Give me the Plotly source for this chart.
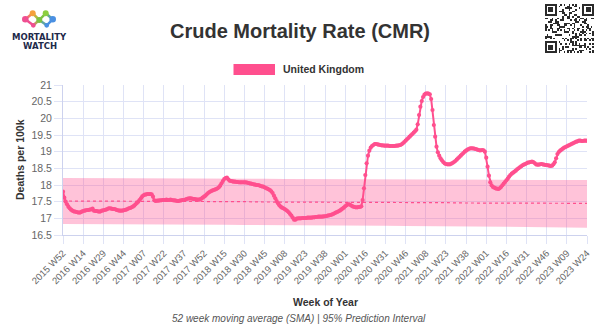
import datetime
import plotly.graph_objects as go

W, H = 600, 335

# ---------------- data ----------------
tick_labels = ["2015 W52", "2016 W14", "2016 W29", "2016 W44", "2017 W07", "2017 W22",
               "2017 W37", "2017 W52", "2018 W15", "2018 W30", "2018 W45", "2019 W08",
               "2019 W23", "2019 W38", "2020 W01", "2020 W16", "2020 W31", "2020 W46",
               "2021 W08", "2021 W23", "2021 W38", "2022 W01", "2022 W16", "2022 W31",
               "2022 W46", "2023 W09", "2023 W24"]

cmr_uk = [
    17.80, 17.62, 17.50, 17.42, 17.35, 17.30, 17.26, 17.23, 17.21, 17.20, 17.19, 17.18, 17.17, 17.18, 17.20,
    17.22, 17.23, 17.24, 17.25, 17.25, 17.26, 17.27, 17.29, 17.23, 17.22, 17.22, 17.21, 17.20, 17.21, 17.23,
    17.24, 17.25, 17.26, 17.28, 17.30, 17.30, 17.29, 17.28, 17.28, 17.27, 17.25, 17.24, 17.23, 17.23, 17.23,
    17.24, 17.25, 17.26, 17.28, 17.30, 17.31, 17.33, 17.35, 17.38, 17.42, 17.46, 17.50, 17.55, 17.60, 17.66,
    17.69, 17.71, 17.72, 17.73, 17.73, 17.73, 17.72, 17.65, 17.54, 17.52, 17.53, 17.53, 17.54, 17.54, 17.55,
    17.55, 17.55, 17.56, 17.55, 17.55, 17.56, 17.55, 17.54, 17.54, 17.53, 17.52, 17.52, 17.53, 17.54, 17.55,
    17.55, 17.56, 17.58, 17.59, 17.60, 17.60, 17.59, 17.58, 17.58, 17.57, 17.56, 17.56, 17.57, 17.59, 17.62,
    17.65, 17.68, 17.72, 17.76, 17.79, 17.81, 17.83, 17.85, 17.86, 17.88, 17.90, 17.93, 17.98, 18.05, 18.12,
    18.18, 18.21, 18.22, 18.17, 18.13, 18.12, 18.11, 18.10, 18.10, 18.09, 18.09, 18.08, 18.08, 18.08, 18.08,
    18.08, 18.08, 18.07, 18.06, 18.05, 18.04, 18.03, 18.02, 18.01, 18.00, 18.00, 17.99, 17.97, 17.96, 17.95,
    17.93, 17.91, 17.89, 17.87, 17.85, 17.81, 17.76, 17.68, 17.60, 17.52, 17.45, 17.39, 17.35, 17.32, 17.30,
    17.28, 17.25, 17.22, 17.18, 17.13, 17.08, 17.02, 16.96, 16.96, 16.99, 17.00, 17.00, 17.00, 17.01, 17.01,
    17.01, 17.01, 17.02, 17.02, 17.02, 17.02, 17.03, 17.03, 17.04, 17.04, 17.05, 17.05, 17.05, 17.05, 17.06,
    17.06, 17.07, 17.08, 17.09, 17.10, 17.11, 17.13, 17.15, 17.17, 17.19, 17.21, 17.23, 17.26, 17.29, 17.32,
    17.36, 17.39, 17.42, 17.42, 17.40, 17.37, 17.35, 17.34, 17.33, 17.33, 17.34, 17.34, 17.36, 17.55, 17.90,
    18.30, 18.65, 18.88, 19.03, 19.12, 19.17, 19.20, 19.23, 19.23, 19.22, 19.21, 19.20, 19.19, 19.19, 19.18,
    19.18, 19.18, 19.18, 19.17, 19.17, 19.17, 19.17, 19.17, 19.18, 19.18, 19.19, 19.20, 19.22, 19.25, 19.29,
    19.33, 19.37, 19.41, 19.45, 19.49, 19.53, 19.57, 19.61, 19.66, 19.82, 20.10, 20.35, 20.52, 20.64, 20.71,
    20.74, 20.75, 20.74, 20.72, 20.58, 20.25, 19.80, 19.45, 19.15, 18.98, 18.88, 18.80, 18.74, 18.69, 18.65,
    18.63, 18.62, 18.62, 18.62, 18.64, 18.66, 18.69, 18.72, 18.76, 18.80, 18.84, 18.88, 18.92, 18.96, 19.00,
    19.03, 19.06, 19.08, 19.10, 19.10, 19.10, 19.09, 19.08, 19.07, 19.05, 19.04, 19.04, 19.05, 19.04, 19.00,
    18.82, 18.55, 18.28, 18.08, 17.99, 17.94, 17.92, 17.90, 17.89, 17.88, 17.90, 17.94, 17.99, 18.04, 18.09,
    18.14, 18.19, 18.25, 18.30, 18.34, 18.37, 18.40, 18.43, 18.47, 18.50, 18.53, 18.56, 18.59, 18.61, 18.63,
    18.65, 18.67, 18.68, 18.69, 18.70, 18.69, 18.66, 18.62, 18.61, 18.61, 18.62, 18.63, 18.62, 18.61, 18.60,
    18.60, 18.59, 18.58, 18.57, 18.58, 18.62, 18.68, 18.80, 18.93, 18.99, 19.03, 19.06, 19.09, 19.12, 19.14,
    19.16, 19.18, 19.20, 19.22, 19.24, 19.26, 19.28, 19.30, 19.31, 19.33, 19.33, 19.32, 19.32, 19.33, 19.33,
    19.33,
]

baseline = [17.52, 17.52, 17.52, 17.51, 17.51, 17.51, 17.50, 17.50, 17.50, 17.50, 17.49, 17.49, 17.49,
            17.48, 17.48, 17.48, 17.48, 17.47, 17.47, 17.47, 17.46, 17.46, 17.46, 17.46, 17.45, 17.45, 17.45]
pi_upper = [18.21, 18.21, 18.21, 18.20, 18.20, 18.20, 18.20, 18.19, 18.19, 18.19, 18.19, 18.18, 18.18,
            18.18, 18.18, 18.17, 18.17, 18.17, 18.17, 18.16, 18.16, 18.16, 18.16, 18.15, 18.15, 18.15, 18.15]
pi_lower = [16.83, 16.83, 16.83, 16.82, 16.82, 16.82, 16.81, 16.81, 16.81, 16.80, 16.80, 16.80, 16.79,
            16.79, 16.79, 16.78, 16.78, 16.77, 16.77, 16.76, 16.76, 16.75, 16.75, 16.74, 16.74, 16.73, 16.72]

# weekly category labels (ISO weeks), starting at the first tick label
_y0, _w0 = int(tick_labels[0][:4]), int(tick_labels[0][-2:])
_start = datetime.date.fromisocalendar(_y0, _w0, 1)
weeks = []
for i in range(len(cmr_uk)):
    iy, iw, _ = (_start + datetime.timedelta(weeks=i)).isocalendar()
    weeks.append(f"{iy} W{iw:02d}")

# ---------------- helpers ----------------
def px(x):
    return x / W

def py(y):
    return 1 - y / H

PINK = "#ff4f8e"
GRID = "#dfe3f6"
AXIS = "#cdd2ee"
FONT = "Liberation Sans, Arial, Helvetica, sans-serif"

fig = go.Figure()

# prediction interval band
fig.add_trace(go.Scatter(x=tick_labels, y=pi_lower, mode="lines", line=dict(width=0, color=PINK),
                         hoverinfo="skip", showlegend=False))
fig.add_trace(go.Scatter(x=tick_labels, y=pi_upper, mode="lines", line=dict(width=0, color=PINK),
                         fill="tonexty", fillcolor="rgba(255,79,143,0.34)", hoverinfo="skip",
                         showlegend=False))
# baseline
fig.add_trace(go.Scatter(x=tick_labels, y=baseline, mode="lines",
                         line=dict(width=1.2, color=PINK, dash="dot"), hoverinfo="skip",
                         showlegend=False))
# main series
fig.add_trace(go.Scatter(x=weeks, y=cmr_uk, mode="lines+markers", name="United Kingdom",
                         line=dict(width=2, color=PINK), marker=dict(size=4.2, color=PINK),
                         showlegend=False))

# QR-like decoration (top right)
n = 29
qr = [[0] * n for _ in range(n)]
for i in range(n):
    for j in range(n):
        qr[i][j] = 1 if ((i * i + 3 * j + i * j + (i ^ j)) % 7) < 3 else 0
def finder(r0, c0):
    for i in range(7):
        for j in range(7):
            edge = i in (0, 6) or j in (0, 6)
            core = 2 <= i <= 4 and 2 <= j <= 4
            qr[r0 + i][c0 + j] = 1 if (edge or core) else 0
    for k in range(-1, 8):
        for (a, b) in ((r0 - 1, c0 + k), (r0 + 7, c0 + k), (r0 + k, c0 - 1), (r0 + k, c0 + 7)):
            if 0 <= a < n and 0 <= b < n:
                qr[a][b] = 0
finder(0, 0)
finder(0, n - 7)
finder(n - 7, 0)
fig.add_trace(go.Heatmap(z=qr, xaxis="x2", yaxis="y2", showscale=False, hoverinfo="skip",
                         colorscale=[[0, "white"], [1, "#2b2b2b"]], zmin=0, zmax=1))

fig.update_layout(
    width=W, height=H,
    margin=dict(l=0, r=0, t=0, b=0, pad=0),
    paper_bgcolor="white", plot_bgcolor="white",
    font=dict(family=FONT, color="#555"),
    showlegend=False,
    xaxis=dict(
        domain=[px(63), px(587)], anchor="y",
        type="category", categoryorder="array", categoryarray=weeks,
        range=[0, len(weeks) - 1],
        tickmode="array", tickvals=tick_labels, ticktext=tick_labels,
        tickangle=-45, tickfont=dict(size=9.5, color="#666"),
        showgrid=True, gridcolor=GRID, gridwidth=1,
        ticks="outside", ticklen=8, tickcolor=GRID,
        showline=True, linecolor=AXIS, zeroline=False, automargin=False,
    ),
    yaxis=dict(
        domain=[py(235), py(85)], anchor="x",
        range=[16.5, 21], tick0=16.5, dtick=0.5,
        tickfont=dict(size=10.5, color="#666"),
        showgrid=True, gridcolor=GRID, gridwidth=1,
        ticks="outside", ticklen=8, tickcolor=GRID,
        showline=True, linecolor=AXIS, zeroline=False, automargin=False,
    ),
    xaxis2=dict(domain=[px(545), px(594)], anchor="y2", visible=False, showgrid=False),
    yaxis2=dict(domain=[py(53), py(4)], anchor="x2", visible=False, showgrid=False,
                autorange="reversed"),
)

ann = []
ann.append(dict(text="<b>Crude Mortality Rate (CMR)</b>", x=px(300), y=py(31), xref="paper",
                yref="paper", showarrow=False, font=dict(size=20, color="#333", family=FONT),
                xanchor="center", yanchor="middle"))
ann.append(dict(text="<b>United Kingdom</b>", x=px(281), y=py(69.5), xref="paper", yref="paper",
                showarrow=False, font=dict(size=10.5, color="#333", family=FONT),
                xanchor="left", yanchor="middle"))
ann.append(dict(text="<b>Deaths per 100k</b>", x=px(20), y=py(160), xref="paper", yref="paper",
                showarrow=False, textangle=-90, font=dict(size=10.5, color="#333", family=FONT),
                xanchor="center", yanchor="middle"))
ann.append(dict(text="<b>Week of Year</b>", x=px(325), y=py(302), xref="paper", yref="paper",
                showarrow=False, font=dict(size=10.5, color="#333", family=FONT),
                xanchor="center", yanchor="middle"))
ann.append(dict(text="<i>52 week moving average (SMA) | 95% Prediction Interval</i>", x=px(299),
                y=py(318), xref="paper", yref="paper", showarrow=False,
                font=dict(size=10, color="#555", family=FONT), xanchor="center", yanchor="middle"))
ann.append(dict(text="<b>MORTALITY</b>", x=px(39), y=py(37), xref="paper", yref="paper",
                showarrow=False, font=dict(size=8.5, color="#1e2a4a", family="DejaVu Sans"),
                xanchor="center", yanchor="middle"))
ann.append(dict(text="<b>WATCH</b>", x=px(40), y=py(46.5), xref="paper", yref="paper",
                showarrow=False, font=dict(size=8.5, color="#1e2a4a", family="DejaVu Sans"),
                xanchor="center", yanchor="middle"))
fig.update_layout(annotations=ann)

shapes = []
# legend swatch
shapes.append(dict(type="rect", xref="paper", yref="paper", x0=px(233.5), x1=px(275),
                   y0=py(75), y1=py(64), fillcolor=PINK, line=dict(width=0)))
# logo: connections and dots
dots = {
    "pk": (25.3, 19.3, "#ef4f91", 3.3),
    "or": (32.7, 13.3, "#f5a03c", 3.0),
    "gc": (39.3, 20.0, "#7cc242", 3.0),
    "gt": (45.7, 13.3, "#8ccf3f", 3.0),
    "bl": (52.7, 19.3, "#4a90e2", 3.3),
    "pb": (33.3, 25.3, "#ef4f91", 2.4),
    "bb": (46.7, 25.3, "#4a90e2", 2.4),
}
links = [("pk", "or", "#f27b6a"), ("or", "gc", "#b8b642"), ("gc", "gt", "#7cc242"),
         ("gt", "bl", "#63aa92"), ("pk", "pb", "#ef4f91"), ("pb", "gc", "#b8a05e"),
         ("gc", "bb", "#62a7a0"), ("bb", "bl", "#4a90e2")]
for a, b, c in links:
    xa, ya = dots[a][0], dots[a][1]
    xb, yb = dots[b][0], dots[b][1]
    shapes.append(dict(type="line", xref="paper", yref="paper", x0=px(xa), y0=py(ya),
                       x1=px(xb), y1=py(yb), line=dict(color=c, width=2.5)))
for k, (cx, cy, c, r) in dots.items():
    shapes.append(dict(type="circle", xref="paper", yref="paper", x0=px(cx - r), x1=px(cx + r),
                       y0=py(cy + r), y1=py(cy - r), fillcolor=c, line=dict(width=0)))
fig.update_layout(shapes=shapes)

fig.write_html("out.html", config={"displayModeBar": False})
